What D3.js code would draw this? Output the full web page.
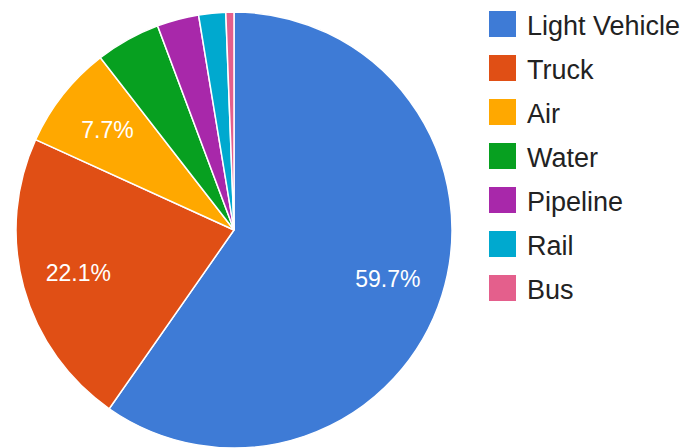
<!DOCTYPE html>
<html>
<head>
<meta charset="utf-8">
<script src="https://cdn.jsdelivr.net/npm/d3@7"></script>
<style>
  body { margin: 0; background: #fff; }
  svg { display: block; font-family: "Liberation Sans", Arial, sans-serif; }
</style>
</head>
<body>
<div id="chart"></div>
<script>
const categories = ['Light Vehicle', 'Truck', 'Air', 'Water', 'Pipeline', 'Rail', 'Bus'];
const shares = [59.7, 22.1, 7.7, 4.8, 3.1, 2.0, 0.6];
const colors = ['#3e7bd6', '#e04f15', '#ffa800', '#07a020', '#a828aa', '#00a9cf', '#e45f8c'];

const width = 699;
const height = 448;
const cx = 234, cy = 230, radius = 218;

const svg = d3.select('#chart')
    .append('svg')
    .attr('width', width)
    .attr('height', height);

const data = categories.map((name, i) => ({name, value: shares[i], color: colors[i]}));

const pie = d3.pie()
    .value(d => d.value)
    .sort(null);

const arc = d3.arc()
    .innerRadius(0)
    .outerRadius(radius);

const labelArc = d3.arc()
    .innerRadius(radius * 0.74)
    .outerRadius(radius * 0.74);

const g = svg.append('g')
    .attr('transform', `translate(${cx},${cy})`);

const arcs = pie(data);

g.selectAll('path')
    .data(arcs)
    .enter()
    .append('path')
    .attr('d', arc)
    .attr('fill', d => d.data.color)
    .attr('stroke', '#fff')
    .attr('stroke-width', 1.5);

// only the bigger slices get a percentage label
g.selectAll('.label')
    .data(arcs.filter(d => d.data.value > 5))
    .enter()
    .append('text')
    .attr('class', 'label')
    .attr('transform', d => `translate(${labelArc.centroid(d)})`)
    .attr('text-anchor', 'middle')
    .attr('dy', '0.36em')
    .attr('fill', '#fff')
    .style('font-size', '23px')
    .text(d => d.data.value.toFixed(1) + '%');

const legend = svg.append('g')
    .attr('transform', 'translate(489,11)');

const rows = legend.selectAll('g')
    .data(data)
    .enter()
    .append('g')
    .attr('transform', (d, i) => `translate(0,${i * 44})`);

rows.append('rect')
    .attr('width', 27)
    .attr('height', 26)
    .attr('fill', d => d.color);

rows.append('text')
    .attr('x', 38)
    .attr('y', 24)
    .attr('fill', '#222')
    .style('font-size', '27px')
    .text(d => d.name);
</script>
</body>
</html>
